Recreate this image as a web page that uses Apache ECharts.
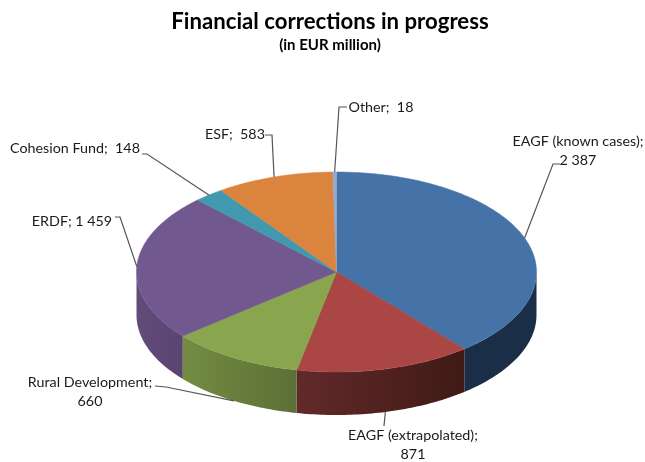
<!DOCTYPE html>
<html>
<head>
<meta charset="utf-8">
<style>
  html, body { margin: 0; padding: 0; background: #fff; }
  #chart { width: 645px; height: 462px; }
</style>
<script src="https://cdn.jsdelivr.net/npm/echarts@6/dist/echarts.min.js"></script>
</head>
<body>
<div id="chart"></div>
<script>
  var categories = ['EAGF (known cases)', 'EAGF (extrapolated)', 'Rural Development', 'ERDF', 'Cohesion Fund', 'ESF', 'Other']
  var values = [2387, 871, 660, 1459, 148, 583, 18]
  var labelTexts = [
    'EAGF (known cases);\n2 387',
    'EAGF (extrapolated);\n871',
    'Rural Development;\n660',
    'ERDF; 1 459',
    'Cohesion Fund;  148',
    'ESF;  583',
    'Other;  18'
  ]

  // styling and layout, slice by slice
  var topColors = ['#4572a7', '#aa4643', '#89a54e', '#71588f', '#4198af', '#db843d', '#93a9cf']
  var sideColors = [
    ['#1b2e47', '#1b2e47'],
    ['#62292a', '#3f1a16'],
    ['#738c42', '#5c7036'],
    ['#614c7a', '#5a4470'],
    ['#2a6475', '#2a6475'],
    ['#93582a', '#93582a'],
    ['#62718c', '#62718c']
  ]
  var labelPos = [[578, 151], [413, 445], [90, 392], [72, 221], [75, 148], [235, 134], [381, 107]]
  var elbows = [
    [[553, 164], [560, 164]],
    [[384, 426]],
    [[166, 387], [155, 386]],
    [[120, 217], [115, 217]],
    [[147, 154], [142, 154]],
    [[272, 135], [265, 135]],
    [[339, 107], [347, 107]]
  ]
  var squash = 0.5
  var depth = 43

  var total = values.reduce(function (a, b) { return a + b }, 0)
  var starts = []
  values.reduce(function (sum, v, i) {
    starts[i] = sum
    return sum + v
  }, 0)

  function renderSlice(params, api) {
    var i = params.dataIndex
    var cx = params.coordSys.cx
    var cy = params.coordSys.cy
    var start = api.value(2)
    var end = start + api.value(1)

    // polar point from the angle axis, flattened to the tilted disc
    function pt(angle, drop) {
      var p = api.coord([1, angle])
      return [p[0], cy + (p[1] - cy) * squash + (drop || 0)]
    }
    function arc(from, to, drop) {
      var pts = []
      var n = Math.max(2, Math.ceil((to - from) / total * 360))
      for (var k = 0; k <= n; k++) {
        pts.push(pt(from + (to - from) * k / n, drop))
      }
      return pts
    }

    var children = []

    // front wall, only the part of the rim that faces the viewer
    var wallFrom = Math.max(start, total / 4)
    var wallTo = Math.min(end, total * 3 / 4)
    if (wallTo > wallFrom) {
      var wall = arc(wallFrom, wallTo, 0).concat(arc(wallFrom, wallTo, depth).reverse())
      children.push({
        type: 'polygon',
        shape: { points: wall },
        style: {
          fill: new echarts.graphic.LinearGradient(0, 0, 1, 0, [
            { offset: 0, color: sideColors[i][0] },
            { offset: 1, color: sideColors[i][1] }
          ]),
          stroke: null
        }
      })
    }

    // top face
    children.push({
      type: 'polygon',
      shape: { points: [[cx, cy]].concat(arc(start, end, 0)) },
      style: { fill: topColors[i], stroke: topColors[i], lineWidth: 0.5 }
    })

    // leader line starts on the rim at the slice's middle, on the wall if it is in front
    var mid = (start + end) / 2
    var inFront = mid > total / 4 && mid < total * 3 / 4
    children.push({
      type: 'polyline',
      shape: { points: [pt(mid, inFront ? depth : 0)].concat(elbows[i]) },
      style: { fill: null, stroke: '#555', lineWidth: 1.2 },
      z2: 5
    })
    children.push({
      type: 'text',
      x: labelPos[i][0],
      y: labelPos[i][1],
      style: {
        text: labelTexts[i],
        fill: '#1a1a1a',
        font: '14.3px Lato',
        align: 'center',
        verticalAlign: 'middle',
        lineHeight: 19
      },
      z2: 6
    })

    return { type: 'group', children: children }
  }

  var chart = echarts.init(document.getElementById('chart'), null, { renderer: 'canvas' })
  chart.setOption({
    animation: false,
    backgroundColor: '#fff',
    title: {
      text: 'Financial corrections in progress',
      subtext: '(in EUR million)',
      left: 325,
      top: 6,
      textAlign: 'center',
      itemGap: 5,
      textStyle: { fontFamily: 'Lato', fontSize: 22.2, fontWeight: 'bold', color: '#000' },
      subtextStyle: { fontFamily: 'Lato', fontSize: 15, fontWeight: 'bold', color: '#000' }
    },
    polar: { center: [336.5, 272], radius: 200 },
    angleAxis: { type: 'value', min: 0, max: total, startAngle: 90, clockwise: true, show: false },
    radiusAxis: { type: 'value', min: 0, max: 1, show: false },
    series: [{
      type: 'custom',
      name: 'Financial corrections',
      coordinateSystem: 'polar',
      silent: true,
      clip: false,
      renderItem: renderSlice,
      data: values.map(function (v, i) {
        return { name: categories[i], value: [1, v, starts[i]] }
      })
    }]
  })
</script>
</body>
</html>
